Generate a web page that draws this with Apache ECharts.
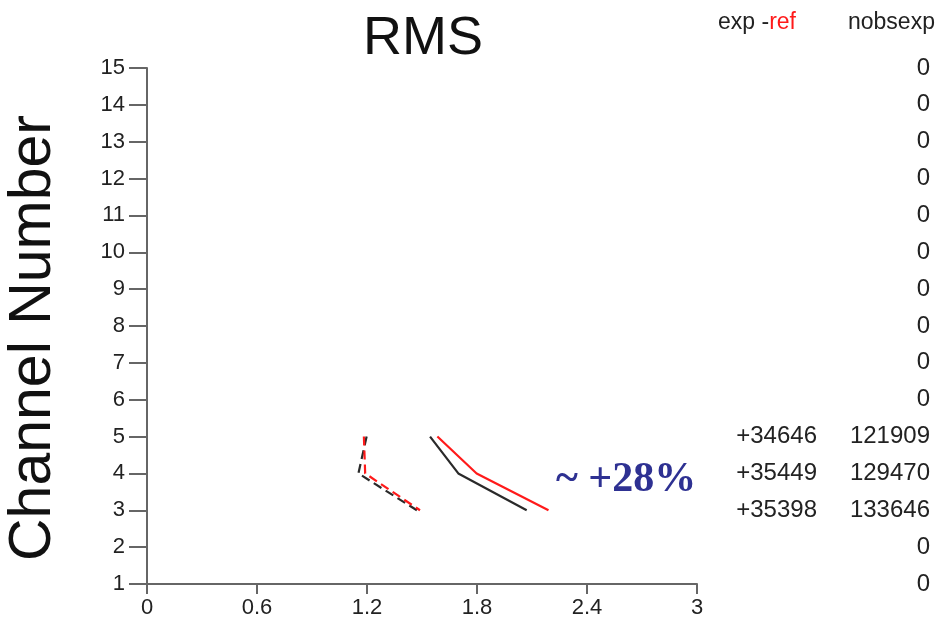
<!DOCTYPE html>
<html>
<head>
<meta charset="utf-8">
<script src="https://cdn.jsdelivr.net/npm/echarts@6/dist/echarts.min.js"></script>
<style>
html,body{margin:0;padding:0;background:#fff;}
#chart{width:948px;height:620px;}
</style>
</head>
<body>
<div id="chart"></div>
<script>
// ---- data ----
var channels = [1,2,3,4,5,6,7,8,9,10,11,12,13,14,15];
var expMinusRef = ['', '', '+35398', '+35449', '+34646', '', '', '', '', '', '', '', '', '', ''];
var nobsexp = ['0', '0', '133646', '129470', '121909', '0', '0', '0', '0', '0', '0', '0', '0', '0', '0'];
var xTicks = [0, 0.6, 1.2, 1.8, 2.4, 3];

var lineChannels = [5, 4, 3];
var blackSolid = [1.544, 1.698, 2.071];
var redSolid   = [1.584, 1.798, 2.190];
var blackDash  = [1.198, 1.153, 1.472];
var redDash    = [1.183, 1.190, 1.489];

var annotation = '~ +28%';

function pairs(xs){ return xs.map(function(x,i){ return [x, lineChannels[i]]; }); }
function byChannel(arr){ return function(v){ var i = channels.indexOf(Math.round(v)); return i < 0 ? '' : arr[i]; }; }

var FONT = '"Liberation Sans", Arial, Helvetica, sans-serif';
var axisCol = '#666';
var chart = echarts.init(document.getElementById('chart'), null, {renderer:'canvas'});

var option = {
  animation: false,
  backgroundColor: '#fff',
  grid: {left:147, right:251, top:68, bottom:36, containLabel:false},
  xAxis: {
    type:'value', min:0, max:3, interval:0.6,
    axisLine:{show:true, onZero:false, lineStyle:{color:axisCol, width:2}},
    axisTick:{show:true, length:10, lineStyle:{color:axisCol, width:2}},
    splitLine:{show:false},
    axisLabel:{fontSize:22, color:'#222', fontFamily:FONT, margin:13,
      formatter:function(v){ var i = xTicks.findIndex(function(t){return Math.abs(t-v)<1e-6;}); return i<0?'':String(xTicks[i]); }}
  },
  yAxis: [{
    type:'value', min:1, max:15, interval:1,
    axisLine:{show:true, onZero:false, lineStyle:{color:axisCol, width:2}},
    axisTick:{show:true, length:18, lineStyle:{color:axisCol, width:2}},
    splitLine:{show:false},
    axisLabel:{fontSize:22, color:'#222', fontFamily:FONT, margin:22}
  },{
    type:'value', min:1, max:15, interval:1, position:'right',
    axisLine:{show:false}, axisTick:{show:false}, splitLine:{show:false},
    axisLabel:{fontSize:24, color:'#222', fontFamily:FONT, margin:120, align:'right', formatter:byChannel(expMinusRef)}
  },{
    type:'value', min:1, max:15, interval:1, position:'right',
    axisLine:{show:false}, axisTick:{show:false}, splitLine:{show:false},
    axisLabel:{fontSize:24, color:'#222', fontFamily:FONT, margin:233, align:'right', formatter:byChannel(nobsexp)}
  }],
  series: [
    {type:'line', data:pairs(blackSolid), symbol:'none', lineStyle:{color:'#2a2a2a', width:2.2}},
    {type:'line', data:pairs(redSolid), symbol:'none', lineStyle:{color:'#ff1a1a', width:2.2}},
    {type:'line', data:pairs(blackDash), symbol:'none', lineStyle:{color:'#2a2a2a', width:2.2, type:[9,5]}},
    {type:'line', data:pairs(redDash), symbol:'none', lineStyle:{color:'#ff1a1a', width:2.2, type:[9,5]}}
  ],
  graphic: [
    {type:'text', x:423, y:39, style:{text:'RMS', fontSize:54, fontFamily:FONT, fill:'#111', textAlign:'center', textVerticalAlign:'middle'}},
    {type:'text', x:34, y:338, rotation:Math.PI/2, style:{text:'Channel Number', fontSize:59, fontFamily:FONT, fill:'#111', textAlign:'center', textVerticalAlign:'middle'}},
    {type:'text', x:718, y:23, style:{text:'{b|exp -}{r|ref}', textVerticalAlign:'middle',
      rich:{b:{fontSize:23, fontFamily:FONT, fill:'#222'}, r:{fontSize:23, fontFamily:FONT, fill:'#ff1a1a'}}}},
    {type:'text', x:848, y:23, style:{text:'nobsexp', fontSize:23, fontFamily:FONT, fill:'#222', textVerticalAlign:'middle'}},
    {type:'text', x:556, y:480, style:{text:annotation, fontSize:42, fontWeight:'bold', fontFamily:'"Liberation Serif", "Times New Roman", serif', fill:'#2e3192', textVerticalAlign:'middle'}}
  ]
};
chart.setOption(option);
</script>
</body>
</html>
